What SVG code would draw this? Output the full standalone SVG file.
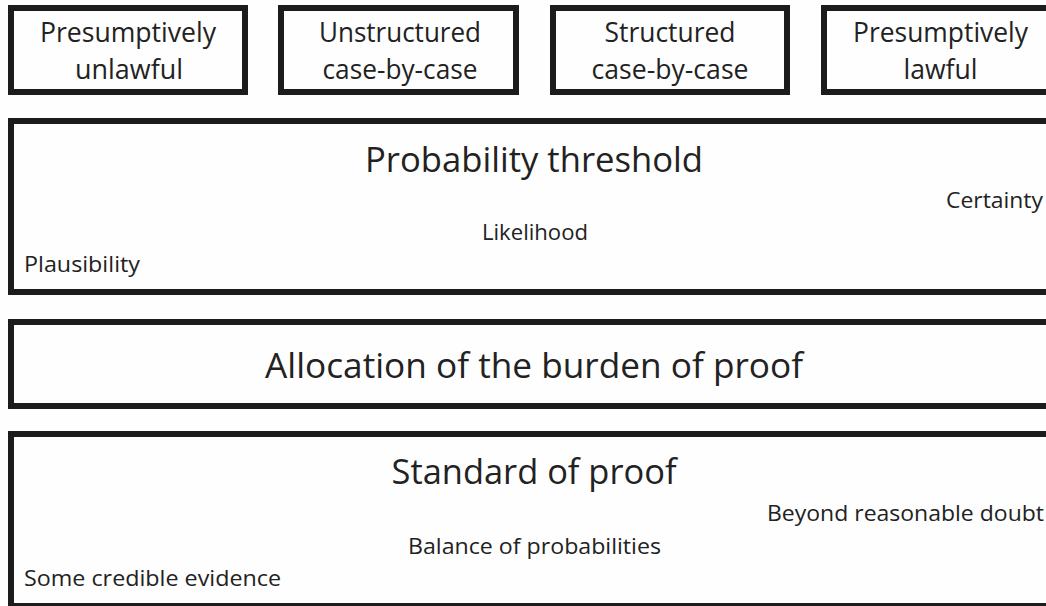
<svg xmlns="http://www.w3.org/2000/svg" width="1046" height="606" viewBox="0 0 1046 606">
<style>
.box{fill:#fefefe;stroke:#1c1c1c;stroke-width:6}
text{font-family:"Open Sans","Liberation Sans",sans-serif;fill:#222;}
.h{font-size:26.5px;text-anchor:middle}
.t{font-size:35px;text-anchor:middle}
.s{font-size:22.5px}
</style>
<rect width="1046" height="606" fill="#fefefe"/>
<g id="presumptively-unlawful">
<rect class="box" x="11" y="8" width="234" height="84"/>
<text class="h" x="128" y="42" textLength="176" lengthAdjust="spacingAndGlyphs">Presumptively</text>
<text class="h" x="129" y="79" textLength="108" lengthAdjust="spacingAndGlyphs">unlawful</text>
</g>
<g id="unstructured">
<rect class="box" x="281" y="8" width="235" height="84"/>
<text class="h" x="400" y="42" textLength="162" lengthAdjust="spacingAndGlyphs">Unstructured</text>
<text class="h" x="400" y="79" textLength="155" lengthAdjust="spacingAndGlyphs">case-by-case</text>
</g>
<g id="structured">
<rect class="box" x="553" y="8" width="234" height="84"/>
<text class="h" x="670" y="42" textLength="131" lengthAdjust="spacingAndGlyphs">Structured</text>
<text class="h" x="670" y="79" textLength="157" lengthAdjust="spacingAndGlyphs">case-by-case</text>
</g>
<g id="presumptively-lawful">
<rect class="box" x="824" y="8" width="234" height="84"/>
<text class="h" x="940.5" y="42" textLength="175" lengthAdjust="spacingAndGlyphs">Presumptively</text>
<text class="h" x="940.5" y="79" textLength="74" lengthAdjust="spacingAndGlyphs">lawful</text>
</g>
<g id="probability-threshold">
<rect class="box" x="11" y="121" width="1046" height="171"/>
<text class="t" x="534" y="172" textLength="338" lengthAdjust="spacingAndGlyphs">Probability threshold</text>
<text class="s" x="946" y="208" textLength="97" lengthAdjust="spacingAndGlyphs">Certainty</text>
<text class="s" x="482" y="240" textLength="106" lengthAdjust="spacingAndGlyphs">Likelihood</text>
<text class="s" x="24" y="272" textLength="116" lengthAdjust="spacingAndGlyphs">Plausibility</text>
</g>
<g id="burden-of-proof">
<rect class="box" x="11" y="322" width="1046" height="84"/>
<text class="t" x="534" y="378" textLength="538" lengthAdjust="spacingAndGlyphs">Allocation of the burden of proof</text>
</g>
<g id="standard-of-proof">
<rect class="box" x="11" y="434" width="1046" height="172"/>
<text class="t" x="534" y="484" textLength="285" lengthAdjust="spacingAndGlyphs">Standard of proof</text>
<text class="s" x="767" y="521" textLength="277" lengthAdjust="spacingAndGlyphs">Beyond reasonable doubt</text>
<text class="s" x="408" y="554" textLength="253" lengthAdjust="spacingAndGlyphs">Balance of probabilities</text>
<text class="s" x="24" y="586" textLength="257" lengthAdjust="spacingAndGlyphs">Some credible evidence</text>
</g>
<g id="connectors"></g>
</svg>
